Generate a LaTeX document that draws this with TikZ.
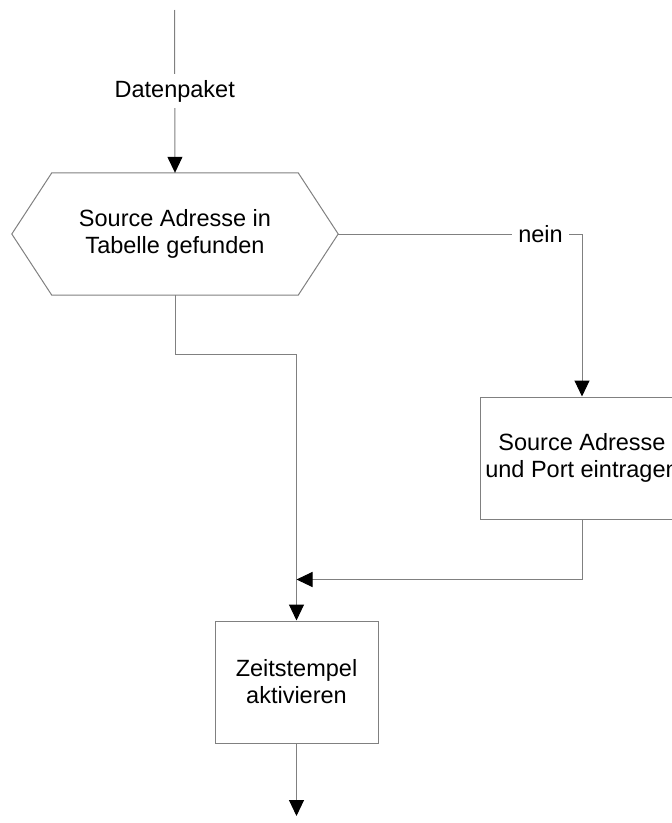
\documentclass[tikz,border=0pt]{standalone}
\usepackage{fontspec}
\setmainfont{Liberation Sans}
\usetikzlibrary{arrows.meta,calc}
\definecolor{linegray}{RGB}{128,128,128}
\begin{document}
\begin{tikzpicture}[x=1bp,y=-1bp,
  txt/.style={font=\fontsize{23.5bp}{27bp}\selectfont, align=center, text=black},
  box/.style={txt, draw=linegray, line width=1bp, fill=white, inner sep=0pt},
  outline/.style={draw=linegray, line width=1bp},
  flow/.style={draw=linegray, line width=1bp,
    -{Triangle[length=16bp,width=15bp,color=black,fill=black]}},
  lbl/.style={txt, fill=white, inner xsep=6bp, inner ysep=6bp}]
  \useasboundingbox (0,0) rectangle (672,823);
  \clip (0,0) rectangle (672,823);

  % decision: hexagon drawn around a text node
  \node[txt, inner sep=0pt, minimum width=246bp, minimum height=122bp] (hex) at (175,234)
    {Source Adresse in\\Tabelle gefunden};
  \coordinate (hexL) at ($(hex.west)+(-40,0)$);
  \coordinate (hexR) at ($(hex.east)+(40,0)$);
  \draw[outline] (hex.north west) -- (hex.north east) -- (hexR) -- (hex.south east)
    -- (hex.south west) -- (hexL) -- cycle;

  % process boxes
  \node[box, minimum width=204bp, minimum height=122bp] (src) at (582,458)
    {Source Adresse\\und Port eintragen};
  \node[box, minimum width=163bp, minimum height=122bp] (zeit) at (296.5,682)
    {Zeitstempel\\aktivieren};

  % free ends and junction
  \coordinate (in) at (174.5,10);
  \coordinate (out) at (296.5,816);
  \coordinate (merge) at ($(zeit.north)+(0,-41)$);

  % connectors
  \draw[flow] (in) -- node[lbl] {Datenpaket} (hex.north);
  \draw[flow] (hex.south) -- ++(0,59) -| (zeit.north);
  \draw[flow] (hexR) -| node[lbl, pos=0.415] {nein} (src.north);
  \draw[flow] (src.south) |- (merge);
  \draw[flow] (zeit.south) -- (out);
\end{tikzpicture}
\end{document}
